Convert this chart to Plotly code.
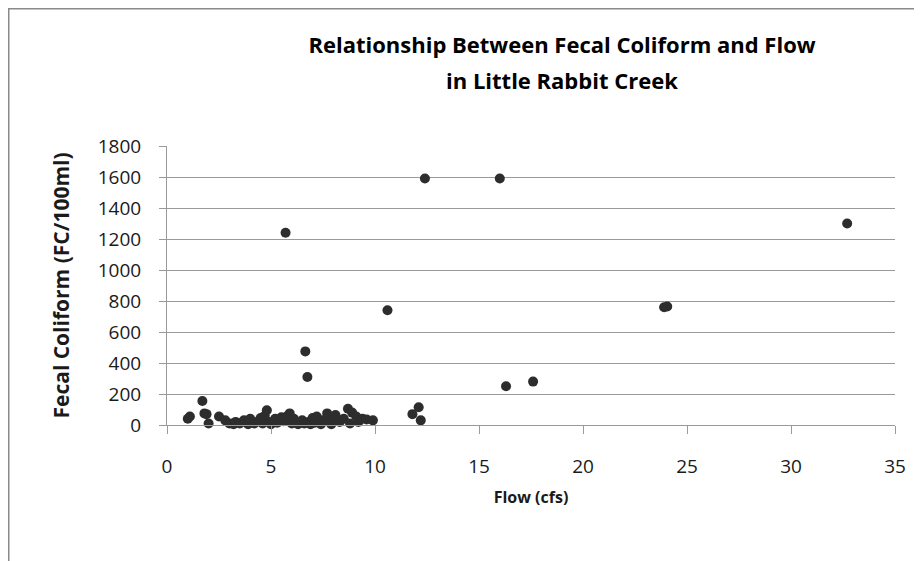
"""Scatter plot of fecal coliform against flow for Little Rabbit Creek."""

import plotly.graph_objs as go

# Flow (cfs) and fecal coliform (FC/100ml)
flow_cfs = [
    1.0, 1.1, 1.7, 1.8, 1.9, 2.0, 2.5, 2.8, 3.0, 3.2, 3.3, 3.5, 3.7, 3.9,
    4.0, 4.2, 4.4, 4.5, 4.6, 4.7, 4.8, 4.9, 5.0, 5.2, 5.3, 5.5, 5.6, 5.8,
    5.9, 6.0, 6.1, 6.3, 6.5, 6.6, 6.8, 6.9, 7.0, 7.1, 7.2, 7.4, 7.5, 7.7,
    7.8, 7.9, 8.0, 8.1, 8.3, 8.5, 8.7, 8.8, 8.9, 9.1, 9.2, 9.4, 9.6, 9.9,
    11.8, 12.1, 12.2,
    5.7, 6.65, 6.75, 10.6, 12.4, 16.0, 16.3, 17.6, 23.9, 24.05, 32.7,
]
fecal_coliform = [
    40, 55, 155, 75, 70, 10, 55, 30, 10, 5, 20, 10, 30, 5,
    40, 10, 25, 45, 10, 60, 95, 20, 5, 40, 15, 50, 25, 60,
    75, 10, 40, 5, 30, 10, 20, 5, 45, 15, 55, 5, 30, 75,
    20, 5, 50, 65, 20, 40, 105, 10, 80, 55, 20, 40, 35, 30,
    70, 115, 30,
    1240, 475, 310, 740, 1590, 1590, 250, 280, 760, 765, 1300,
]

x_ticks = [0, 5, 10, 15, 20, 25, 30, 35]
y_ticks = [0, 200, 400, 600, 800, 1000, 1200, 1400, 1600, 1800]

title_lines = ["Relationship Between Fecal Coliform and Flow", "in Little Rabbit Creek"]

FONT = "Open Sans"
GRAY = "#9a9a9a"

# plot area in figure pixels (the page adds an 8px body margin)
W, H = 922, 561
L, R, T, B = 159, 887, 138, 417

fig = go.Figure()
fig.add_trace(go.Scatter(
    x=flow_cfs,
    y=fecal_coliform,
    mode="markers",
    marker={"size": 10, "color": "#2d2d2d"},
    cliponaxis=False,
    showlegend=False,
))

# the outer chart frame (cut off on the right and bottom in the original)
fig.add_shape(
    type="rect", xref="paper", yref="paper",
    x0=(0.5 - L) / (R - L), x1=2.0,
    y0=-2.0, y1=(B - 0.5) / (B - T),
    line={"color": "#8a8a8a", "width": 2},
)

# second title line placed by hand to match the wider line spacing
fig.add_annotation(
    text="<b>" + title_lines[1] + "</b>",
    xref="paper", yref="paper",
    x=(554 - L) / (R - L), y=(B - 72) / (B - T),
    xanchor="center", yanchor="middle",
    showarrow=False,
    font={"family": FONT, "size": 22, "color": "#000000"},
)

fig.update_layout(
    width=W, height=H,
    margin={"l": L, "r": W - R, "t": T, "b": H - B},
    paper_bgcolor="white",
    plot_bgcolor="white",
    font={"family": FONT, "color": "#1a1a1a", "size": 19},
    title={
        "text": "<b>" + title_lines[0] + "</b>",
        "x": 554 / W, "xanchor": "center",
        "y": 1 - 37 / H, "yanchor": "middle",
        "font": {"family": FONT, "size": 22, "color": "#000000"},
    },
    xaxis={
        "range": [0, 35],
        "tickvals": x_ticks,
        "showgrid": False,
        "zeroline": False,
        "showline": True, "linecolor": GRAY, "linewidth": 1,
        "ticks": "outside", "ticklen": 8, "tickcolor": GRAY,
        "ticklabelstandoff": 16,
        "title": {"text": "<b>Flow (cfs)</b>", "font": {"size": 16}, "standoff": 14},
    },
    yaxis={
        "range": [0, 1800],
        "tickvals": y_ticks,
        "showgrid": True, "gridcolor": GRAY, "gridwidth": 1,
        "zeroline": False,
        "showline": True, "linecolor": GRAY, "linewidth": 1,
        "ticks": "outside", "ticklen": 7, "tickcolor": GRAY,
        "ticklabelstandoff": 14,
        "title": {"text": "<b>Fecal Coliform (FC/100ml)</b>", "font": {"size": 21}, "standoff": 22},
    },
)

fig.write_html("out.html")
